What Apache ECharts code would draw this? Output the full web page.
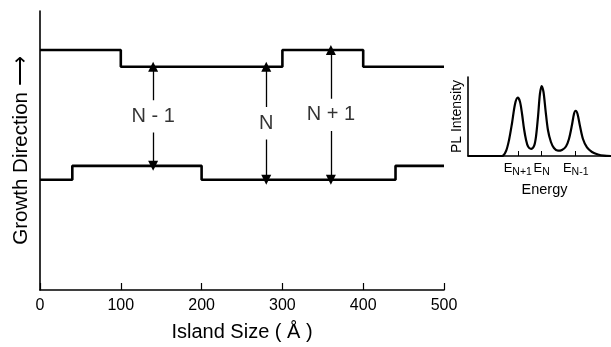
<!DOCTYPE html>
<html><head><meta charset="utf-8">
<script src="https://cdn.jsdelivr.net/npm/echarts@6/dist/echarts.min.js"></script>
<style>html,body{margin:0;padding:0;background:#fff}#c{width:611px;height:347px}</style>
</head><body><div id="c"></div>
<script>
// Main chart: interface profiles (x: island size in Å, y: arbitrary growth-direction units 0-100)
const xTicks = [0, 100, 200, 300, 400, 500];
const upperX = [0, 100, 300, 400, 500];
const upperY = [86, 80, 86, 80, 80];
const lowerX = [0, 40, 200, 440, 500];
const lowerY = [39.5, 44.5, 39.5, 44.5, 44.5];
const arrowX = [140, 280, 360];
const arrowTop = [80, 80, 86];
const arrowBottom = [44.5, 39.5, 39.5];
const arrowLabels = ['N - 1', 'N', 'N + 1'];
// Inset: PL spectrum (energy 0-100 arbitrary, intensity 0-100 arbitrary)
const plEnergy = [0, 23.8, 26.6, 28.7, 30.8, 32.9, 34.8, 36.4, 37.8, 39.2, 40.6, 42.0, 44.1, 46.2, 47.6, 49.0, 50.3, 51.5, 52.8, 54.2, 55.9, 58.0, 60.1, 62.9, 65.7, 68.5, 70.6, 72.7, 74.1, 75.3, 76.6, 78.3, 80.4, 83.2, 86.7, 90.9, 95.1, 100];
const plIntensity = [0, 0, 6.3, 20.3, 41.8, 65.8, 73.8, 68.4, 53.2, 34.2, 20.3, 12.0, 8.9, 12.7, 25.3, 50.6, 78.5, 88.6, 81.0, 58.2, 32.9, 17.7, 10.1, 6.7, 7.6, 12.0, 21.5, 39.2, 53.2, 57.3, 53.2, 38.0, 21.5, 10.8, 5.1, 1.9, 0.4, 0];
const peakEnergy = [34.8, 51.5, 75.3];
const peakLabels = ['N+1', 'N', 'N-1'];

const FONT = 'Liberation Sans, Arial, Helvetica, sans-serif';
const INK = '#000';
const GAP = 5.8;

const zip = (a, b) => a.map((v, i) => [v, b[i]]);
const arrowLines = [];
arrowX.forEach((x, i) => {
  const mid = (arrowTop[i] + arrowBottom[i]) / 2;
  arrowLines.push({ coords: [[x, mid + GAP], [x, arrowTop[i]]] });
  arrowLines.push({ coords: [[x, mid - GAP], [x, arrowBottom[i]]] });
});
const labelPts = arrowX.map((x, i) => ({ value: [x, (arrowTop[i] + arrowBottom[i]) / 2], name: arrowLabels[i] }));

const chart = echarts.init(document.getElementById('c'), null, { renderer: 'canvas' });
chart.setOption({
  animation: false,
  backgroundColor: '#fff',
  textStyle: { fontFamily: FONT, color: INK },
  grid: [
    { left: 40, top: 11, width: 404, height: 279 },
    { left: 468, top: 77, width: 143, height: 79 }
  ],
  xAxis: [
    {
      gridIndex: 0, type: 'value', min: 0, max: 500, interval: 100,
      axisLine: { lineStyle: { color: INK, width: 1.6 } },
      axisTick: { inside: true, length: 7, lineStyle: { color: INK, width: 1.2 } },
      axisLabel: { margin: 8, fontSize: 16, color: INK, fontFamily: FONT },
      splitLine: { show: false },
      name: 'Island Size ( Å )', nameLocation: 'middle', nameGap: 32,
      nameTextStyle: { fontSize: 20, color: INK, fontFamily: FONT }
    },
    {
      gridIndex: 1, type: 'value', min: 0, max: 100,
      axisLine: { lineStyle: { color: INK, width: 1.6 } },
      axisTick: { inside: true, length: 5, customValues: peakEnergy, lineStyle: { color: INK, width: 1 } },
      axisLabel: {
        customValues: peakEnergy, margin: 6, color: INK, hideOverlap: false,
        formatter: v => { const i = peakEnergy.indexOf(v); return '{e|E}{s|' + peakLabels[i] + '}'; },
        rich: {
          e: { fontSize: 13, fontFamily: FONT, color: INK, verticalAlign: 'top', lineHeight: 13 },
          s: { fontSize: 10.5, fontFamily: FONT, color: INK, padding: [7, 0, 0, 0], lineHeight: 10 }
        }
      },
      splitLine: { show: false },
      name: 'Energy', nameLocation: 'middle', nameGap: 26,
      nameTextStyle: { fontSize: 14.5, color: INK, fontFamily: FONT, padding: [0, 0, 0, 10] }
    }
  ],
  yAxis: [
    {
      gridIndex: 0, type: 'value', min: 0, max: 100,
      axisLine: { show: true, lineStyle: { color: INK, width: 1.6 } },
      axisTick: { show: false }, axisLabel: { show: false }, splitLine: { show: false },
      name: 'Growth Direction ⟶', nameLocation: 'middle', nameGap: 8, nameRotate: 90,
      nameTextStyle: { fontSize: 20.5, color: INK, fontFamily: FONT }
    },
    {
      gridIndex: 1, type: 'value', min: 0, max: 100,
      axisLine: { show: true, lineStyle: { color: INK, width: 1.6 } },
      axisTick: { show: false }, axisLabel: { show: false }, splitLine: { show: false },
      name: 'PL Intensity', nameLocation: 'middle', nameGap: 4, nameRotate: 90,
      nameTextStyle: { fontSize: 14, color: INK, fontFamily: FONT }
    }
  ],
  series: [
    { type: 'line', xAxisIndex: 0, yAxisIndex: 0, step: 'end', data: zip(upperX, upperY), symbol: 'none', lineStyle: { color: INK, width: 2.6 } },
    { type: 'line', xAxisIndex: 0, yAxisIndex: 0, step: 'end', data: zip(lowerX, lowerY), symbol: 'none', lineStyle: { color: INK, width: 2.6 } },
    { type: 'lines', coordinateSystem: 'cartesian2d', xAxisIndex: 0, yAxisIndex: 0, data: arrowLines,
      symbol: ['none', 'triangle'], symbolSize: 10, lineStyle: { color: INK, width: 1.3, opacity: 1 } },
    { type: 'scatter', xAxisIndex: 0, yAxisIndex: 0, data: labelPts, symbolSize: 0,
      label: { show: true, position: 'inside', formatter: p => p.name, fontSize: 20, color: INK, fontFamily: FONT } },
    { type: 'line', xAxisIndex: 1, yAxisIndex: 1, data: zip(plEnergy, plIntensity), symbol: 'none', smooth: 0.3,
      lineStyle: { color: INK, width: 2.2 } }
  ]
});
</script></body></html>
